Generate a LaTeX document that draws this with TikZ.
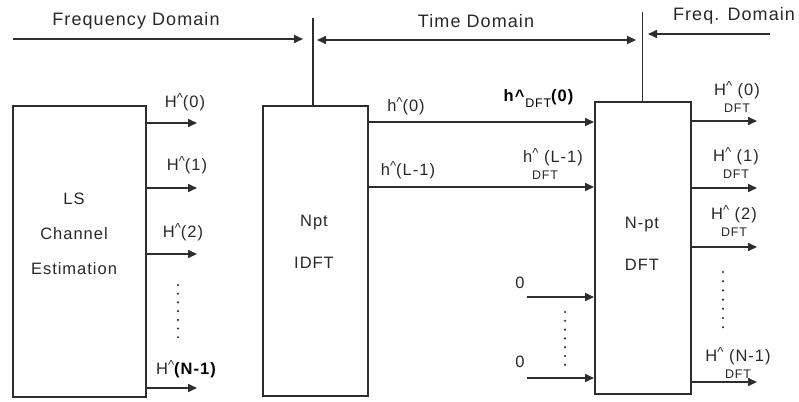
\documentclass[tikz,border=0pt]{standalone}
\usepackage{fontspec}
\setmainfont{Liberation Sans}[LetterSpace=6]
\usetikzlibrary{arrows.meta}
\definecolor{mgray}{RGB}{45,45,45}
\definecolor{mtext}{RGB}{40,40,40}
\newcommand{\hatsup}{\raisebox{5pt}{\fontsize{13}{13}\selectfont\textasciicircum}}
\newcommand{\dftsub}{{\fontsize{12.5}{12.5}\selectfont DFT}}

\begin{document}
\begin{tikzpicture}[x=1pt, y=-1pt, color=mgray, line width=1.6pt]
  \tikzset{dsp block/.style={draw, rectangle, anchor=north west, inner sep=0pt},
           out arrow/.style={-{Triangle[length=9pt,width=8pt]}},
           blk text/.style={align=center, text=mtext},
           sig label/.style={inner sep=0pt, align=center, text=mtext, font=\fontsize{16.5}{16.5}\selectfont},
           dom label/.style={inner sep=0pt, text=mtext, font=\fontsize{18}{18}\selectfont}}
  \useasboundingbox (0,0) rectangle (799,401);

  % blocks
  \node [dsp block, minimum width=133, minimum height=291] (ls) at (12,105) {};
  \node [dsp block, minimum width=105, minimum height=290] (idft) at (262,105) {};
  \node [dsp block, minimum width=96, minimum height=292] (dft) at (594,101) {};
  \node [blk text, font=\fontsize{16.5}{35}\selectfont] (lstext) at (74,234) {LS\\Channel\\Estimation};
  \node [blk text, font=\fontsize{16.5}{42}\selectfont] (idfttext) at (314,242) {Npt\\IDFT};
  \node [blk text, font=\fontsize{16.5}{42}\selectfont] (dfttext) at (642,244) {N-pt\\DFT};

  % domain boundaries
  \coordinate (itop) at (313,18);
  \coordinate (dtop) at (642,12);
  \draw [line width=1.3pt] (idft.north -| itop) -- (itop);
  \draw [line width=1.3pt] (dft.north) -- (dft.north |- dtop);
  \coordinate (fstart) at (13,39);
  \coordinate (fend) at (303,39);
  \coordinate (tstart) at (317,40);
  \coordinate (tend) at (636,40);
  \coordinate (qstart) at (770,34);
  \coordinate (qend) at (648,34);
  \draw [out arrow] (fstart) -- (fend);
  \draw [{Triangle[length=9pt,width=8pt]}-{Triangle[length=9pt,width=8pt]}] (tstart) -- (tend);
  \draw [out arrow] (qstart) -- (qend);
  \node [dom label] (fdom) at (136,21) {Frequency Domain};
  \node [dom label] (tdom) at (476,21) {Time Domain};
  \node [dom label] (qdom) at (734,16) {Freq. Domain};

  % LS outputs
  \foreach \y/\n in {123/a, 188/b, 254/c, 388/d} {
    \coordinate (ls\n) at (197,\y);
    \draw [out arrow] (ls.east |- ls\n) -- (ls\n);
  }
  \node [sig label] (lsla) at (185,102) {H\hatsup(0)};
  \node [sig label] (lslb) at (187,165) {H\hatsup(1)};
  \node [sig label] (lslc) at (183,232) {H\hatsup(2)};
  \node [sig label] (lsld) at (186,369) {H\hatsup\textbf{\color{black}(N-1)}};
  \foreach \y in {285,293.7,...,338} \fill (178,\y) circle (1.2);

  % IDFT to DFT
  \coordinate (ha) at (0,122);
  \coordinate (hb) at (0,187);
  \draw [out arrow] (idft.east |- ha) -- (dft.west |- ha);
  \draw [out arrow] (idft.east |- hb) -- (dft.west |- hb);
  \node [sig label] (hla) at (406,106) {h\hatsup(0)};
  \node [sig label] (hlb) at (408,170) {h\hatsup(L-1)};
  \node [sig label, text=black] (hda) at (539,99) {\textbf{h\^{}}\raisebox{-6pt}{\dftsub}\textbf{(0)}};
  \node [sig label] (hdb) at (553,164) {h\hatsup\ (L-1)\\[1pt]\hspace*{-16pt}\dftsub};

  % zero padding
  \coordinate (za) at (527,297);
  \coordinate (zb) at (527,378);
  \draw [out arrow] (za) -- (dft.west |- za);
  \draw [out arrow] (zb) -- (dft.west |- zb);
  \node [sig label] (zla) at (520,283) {0};
  \node [sig label] (zlb) at (520,362) {0};
  \foreach \y in {312,320.8,...,366} \fill (565,\y) circle (1.2);

  % DFT outputs
  \foreach \y/\n in {121/a, 188/b, 247/c, 382/d} {
    \coordinate (hd\n) at (757,\y);
    \draw [out arrow] (dft.east |- hd\n) -- (hd\n);
  }
  \node [sig label] (dla) at (737,97) {H\hatsup\ (0)\\[0pt]\dftsub};
  \node [sig label] (dlb) at (736,163) {H\hatsup\ (1)\\[0pt]\dftsub};
  \node [sig label] (dlc) at (734,221) {H\hatsup\ (2)\\[0pt]\dftsub};
  \node [sig label] (dld) at (738,363) {H\hatsup\ (N-1)\\[0pt]\dftsub};
  \foreach \y in {272,281.2,...,328} \fill (723,\y) circle (1.2);
\end{tikzpicture}
\end{document}
